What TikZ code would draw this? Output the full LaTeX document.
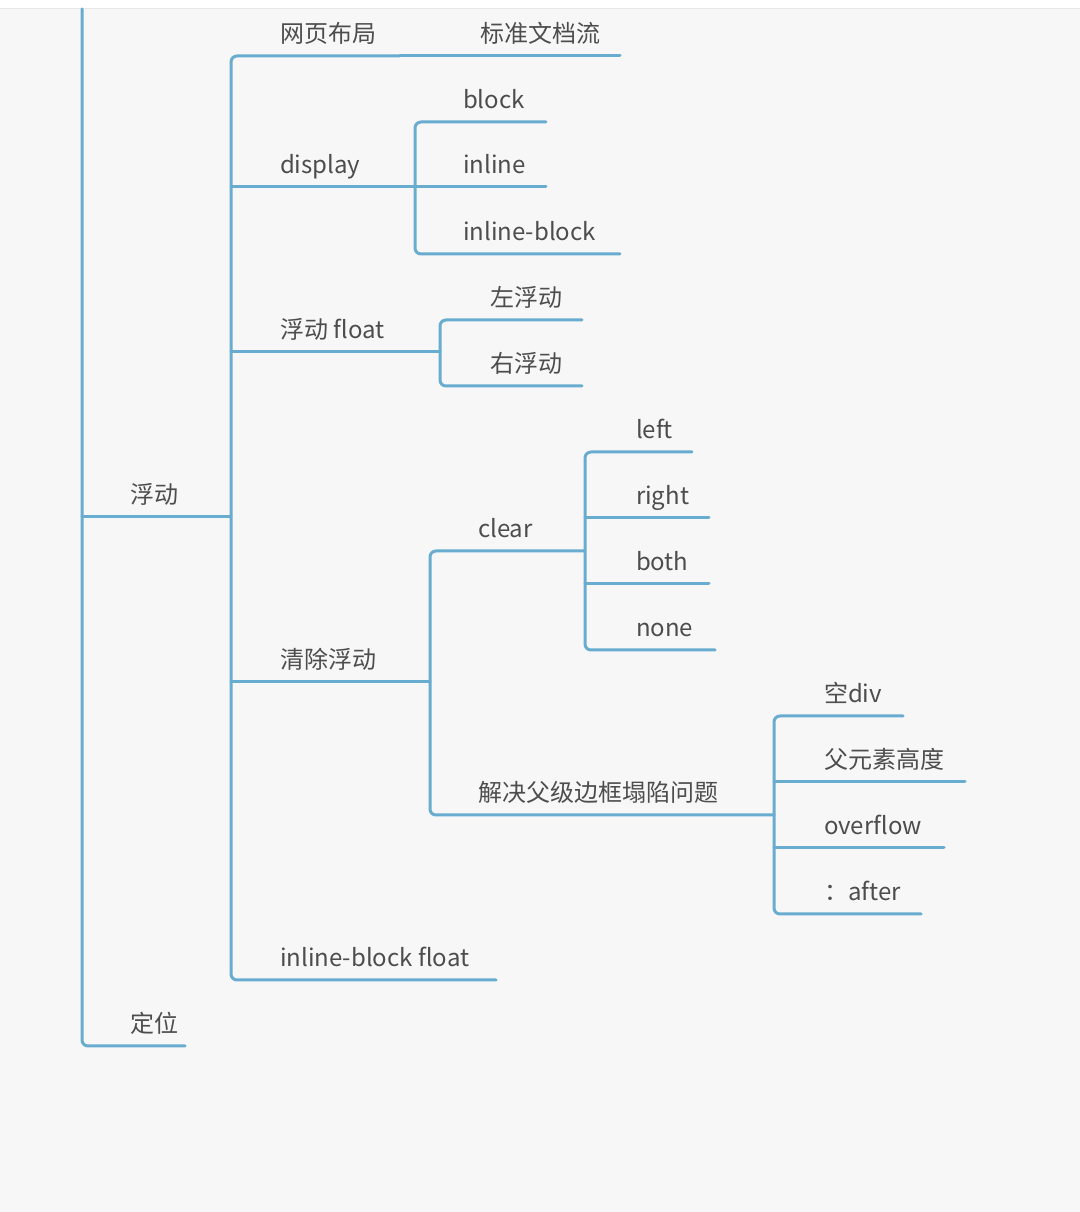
\documentclass[tikz,border=0pt]{standalone}
\usepackage{fontspec}
\setmainfont{Noto Sans CJK SC}
\begin{document}
\begin{tikzpicture}[x=1pt,y=1pt]
\definecolor{fillColor}{RGB}{247,247,247}
\definecolor{drawColor}{RGB}{104,172,208}
\definecolor{textColor}{RGB}{77,77,77}
\definecolor{edgeColor}{RGB}{230,230,230}
\tikzset{
  branch/.style={draw=drawColor,line width=1.5pt,line cap=round,line join=round},
  elbow/.style={branch,rounded corners=3pt},
  topic/.style={text=textColor,anchor=base west,inner sep=0pt,outer sep=0pt,scale=1.2}
}
\path[use as bounding box,fill=fillColor] (0,0) rectangle (540,606);
\path[fill=white] (0,601.5) rectangle (540,606);
\path[draw=edgeColor,line width=0.5pt] (0,601.5) -- (540,601.5);

% line ends
\coordinate (root-top) at ( 41.0,601.5);
\coordinate (fudong-w) at ( 41.0,347.5); \coordinate (fudong-e) at (115.5,347.5);
\coordinate (dingwei-w) at ( 41.0, 83.0); \coordinate (dingwei-e) at ( 92.5, 83.0);

\coordinate (wangye-w) at (115.5,578.0); \coordinate (wangye-e) at (200.0,578.0);
\coordinate (biaozhun-e) at (310.0,578.0);
\coordinate (display-w) at (115.5,512.5); \coordinate (display-e) at (207.5,512.5);
\coordinate (fdfloat-w) at (115.5,430.0); \coordinate (fdfloat-e) at (220.0,430.0);
\coordinate (qingchu-w) at (115.5,265.0); \coordinate (qingchu-e) at (215.0,265.0);
\coordinate (ibfloat-w) at (115.5,116.0); \coordinate (ibfloat-e) at (248.0,116.0);

\coordinate (block-w) at (207.5,545.0); \coordinate (block-e) at (273.0,545.0);
\coordinate (inline-w) at (207.5,512.5); \coordinate (inline-e) at (273.0,512.5);
\coordinate (inlineblock-w) at (207.5,479.0); \coordinate (inlineblock-e) at (310.0,479.0);

\coordinate (zuo-w) at (220.0,446.0); \coordinate (zuo-e) at (291.0,446.0);
\coordinate (you-w) at (220.0,413.0); \coordinate (you-e) at (291.0,413.0);

\coordinate (clear-w) at (215.0,330.5); \coordinate (clear-e) at (292.5,330.5);
\coordinate (jiejue-w) at (215.0,198.5); \coordinate (jiejue-e) at (387.0,198.5);

\coordinate (left-w) at (292.5,380.0); \coordinate (left-e) at (346.0,380.0);
\coordinate (right-w) at (292.5,347.0); \coordinate (right-e) at (354.5,347.0);
\coordinate (both-w) at (292.5,314.0); \coordinate (both-e) at (354.5,314.0);
\coordinate (none-w) at (292.5,281.0); \coordinate (none-e) at (357.5,281.0);

\coordinate (kongdiv-w) at (387.0,248.0); \coordinate (kongdiv-e) at (451.5,248.0);
\coordinate (fuyuansu-w) at (387.0,215.0); \coordinate (fuyuansu-e) at (482.5,215.0);
\coordinate (overflow-w) at (387.0,182.0); \coordinate (overflow-e) at (472.0,182.0);
\coordinate (after-w) at (387.0,149.0); \coordinate (after-e) at (460.5,149.0);

% spines
\path[elbow] (root-top) -- (dingwei-w) -- (dingwei-e);
\path[branch] (fudong-w) -- (fudong-e);
\path[elbow] (wangye-e) -- (wangye-w) -- (ibfloat-w) -- (ibfloat-e);
\path[branch] (wangye-e) -- (biaozhun-e);
\path[branch] (display-w) -- (display-e);
\path[branch] (fdfloat-w) -- (fdfloat-e);
\path[branch] (qingchu-w) -- (qingchu-e);

\path[elbow] (block-e) -- (block-w) -- (inlineblock-w) -- (inlineblock-e);
\path[branch] (inline-w) -- (inline-e);

\path[elbow] (zuo-e) -- (zuo-w) -- (you-w) -- (you-e);

\path[elbow] (clear-e) -- (clear-w) -- (jiejue-w) -- (jiejue-e);

\path[elbow] (left-e) -- (left-w) -- (none-w) -- (none-e);
\path[branch] (right-w) -- (right-e);
\path[branch] (both-w) -- (both-e);

\path[elbow] (kongdiv-e) -- (kongdiv-w) -- (after-w) -- (after-e);
\path[branch] (fuyuansu-w) -- (fuyuansu-e);
\path[branch] (overflow-w) -- (overflow-e);

% labels
\node[topic] (fudong) at ( 65.0,354.0) {浮动};
\node[topic] (dingwei) at ( 65.0, 89.5) {定位};

\node[topic] (wangye) at (140.0,584.5) {网页布局};
\node[topic] (biaozhun) at (240.0,584.5) {标准文档流};
\node[topic] (display) at (140.0,519.0) {display};
\node[topic] (fdfloat) at (140.0,436.5) {浮动 float};
\node[topic] (qingchu) at (140.0,271.5) {清除浮动};
\node[topic] (ibfloat) at (140.0,122.5) {inline-block float};

\node[topic] (block) at (231.5,551.5) {block};
\node[topic] (inline) at (231.5,519.0) {inline};
\node[topic] (inlineblock) at (231.5,485.5) {inline-block};

\node[topic] (zuo) at (245.0,452.5) {左浮动};
\node[topic] (you) at (245.0,419.5) {右浮动};

\node[topic] (clear) at (239.0,337.0) {clear};
\node[topic] (jiejue) at (239.0,205.0) {解决父级边框塌陷问题};

\node[topic] (left) at (318.0,386.5) {left};
\node[topic] (right) at (318.0,353.5) {right};
\node[topic] (both) at (318.0,320.5) {both};
\node[topic] (none) at (318.0,287.5) {none};

\node[topic] (kongdiv) at (412.0,254.5) {空div};
\node[topic] (fuyuansu) at (412.0,221.5) {父元素高度};
\node[topic] (overflow) at (412.0,188.5) {overflow};
\node[topic] (after) at (412.0,155.5) {：after};
\end{tikzpicture}
\end{document}
